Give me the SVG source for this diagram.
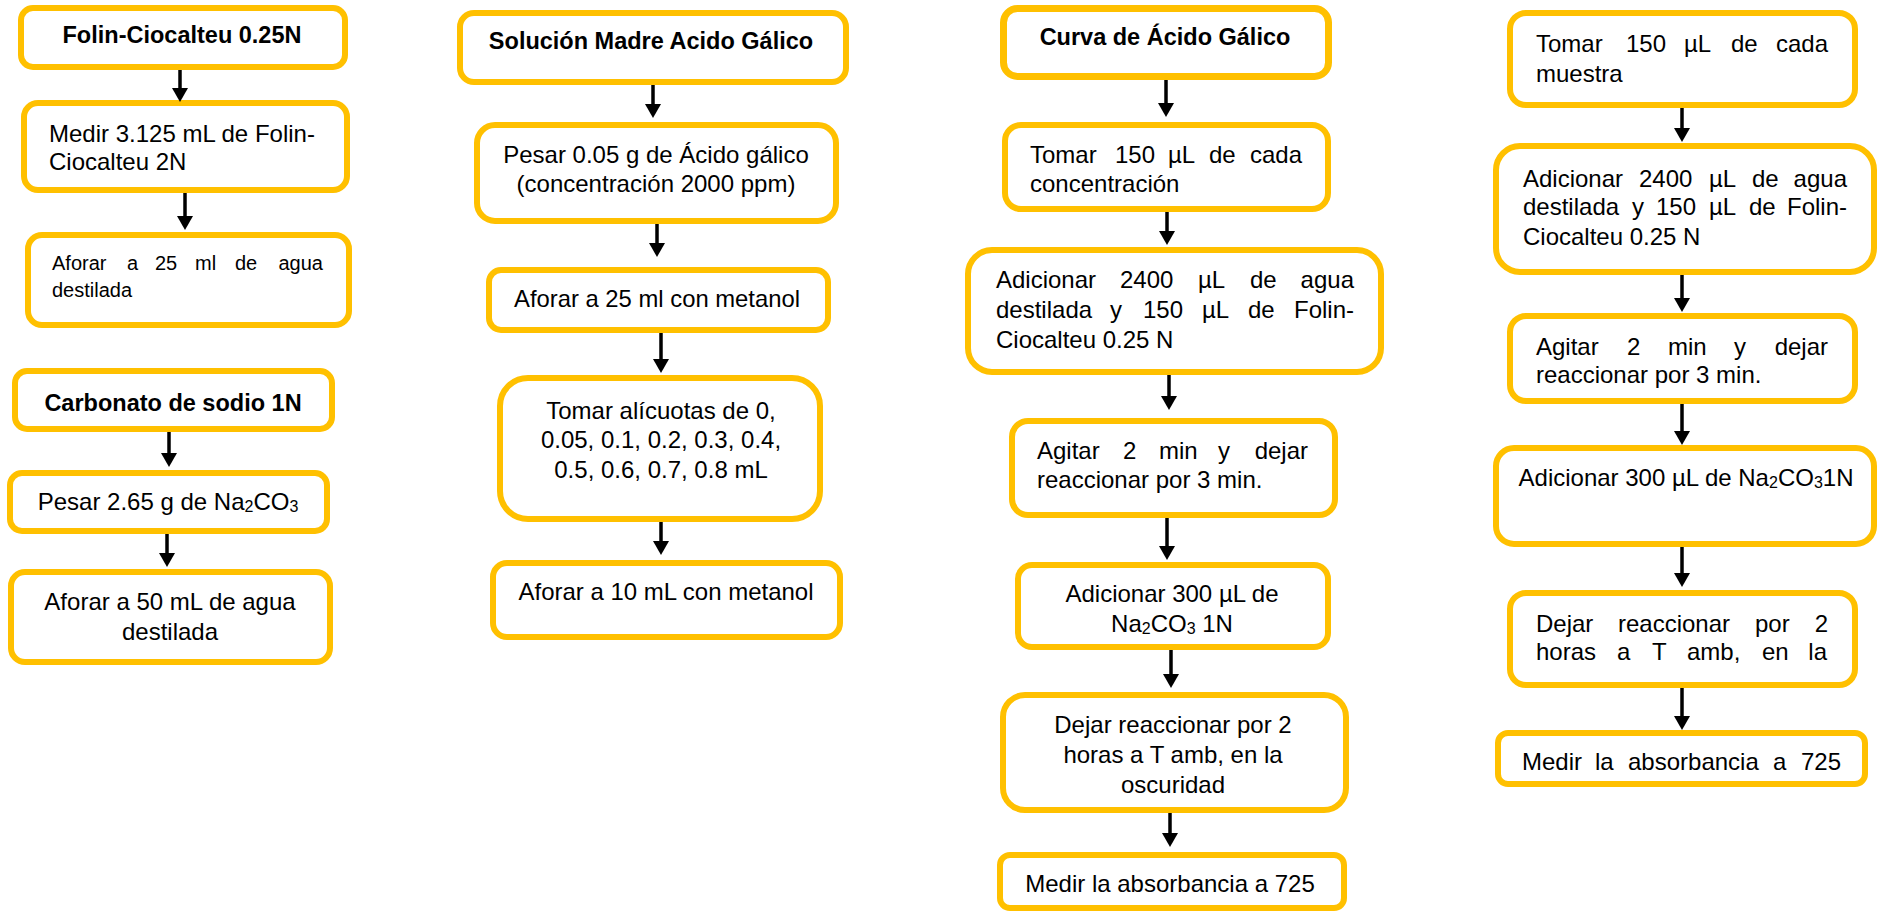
<svg xmlns="http://www.w3.org/2000/svg" width="1878" height="913" viewBox="0 0 1878 913">
  <defs>
    <style>
      .box { fill:#ffffff; stroke:#FFC000; stroke-width:6; }
      .box.thick { stroke-width:7; }
      .t { font-family:"Liberation Sans", Arial, sans-serif; font-size:24px; fill:#000; }
      .b { font-weight:bold; font-size:23.5px; }
      .c { text-anchor:middle; }
      .e { text-anchor:end; }
      .sm { font-size:20px; }
      .sub { font-size:16px; }
      .arr { stroke:#000; stroke-width:3.5; fill:none; marker-end:url(#ah); }
    </style>
    <marker id="ah" markerUnits="userSpaceOnUse" markerWidth="14" markerHeight="16" viewBox="0 0 14 16" refX="2" refY="8" orient="auto">
      <path d="M0,0 L14,8 L0,16 z" fill="#000"/>
    </marker>
  </defs>
  <rect width="1878" height="913" fill="#ffffff"/>

  <!-- Column 1: Folin-Ciocalteu reagent and sodium carbonate -->
  <g id="folin-title">
    <rect class="box" x="21" y="8" width="324" height="59" rx="12"/>
    <text class="t b c" x="182" y="43">Folin-Ciocalteu 0.25N</text>
  </g>
  <g id="folin-medir">
    <rect class="box" x="24" y="103" width="323" height="87" rx="14"/>
    <text class="t" x="49" y="142">Medir 3.125 mL de Folin-</text>
    <text class="t" x="49" y="170">Ciocalteu 2N</text>
  </g>
  <g id="folin-aforar">
    <rect class="box" x="28" y="235" width="321" height="90" rx="14"/>
    <text class="t sm" y="270"><tspan x="52">Aforar</tspan><tspan x="127">a</tspan><tspan x="155">25</tspan><tspan x="195">ml</tspan><tspan x="235">de</tspan><tspan class="e" x="323">agua</tspan></text>
    <text class="t sm" x="52" y="297">destilada</text>
  </g>
  <g id="carbonato-title">
    <rect class="box" x="15" y="371" width="317" height="58" rx="12"/>
    <text class="t b c" x="173" y="411">Carbonato de sodio 1N</text>
  </g>
  <g id="carbonato-pesar">
    <rect class="box" x="10" y="473" width="317" height="58" rx="12"/>
    <text class="t c" x="168" y="510">Pesar 2.65 g de Na<tspan class="sub" dy="2">2</tspan><tspan dy="-2">CO</tspan><tspan class="sub" dy="2">3</tspan></text>
  </g>
  <g id="carbonato-aforar">
    <rect class="box" x="11" y="572" width="319" height="90" rx="14"/>
    <text class="t c" x="170" y="610">Aforar a 50 mL de agua</text>
    <text class="t c" x="170" y="640">destilada</text>
  </g>

  <!-- Column 2: gallic acid stock solution -->
  <g id="madre-title">
    <rect class="box" x="460" y="13" width="386" height="69" rx="14"/>
    <text class="t b c" x="651" y="49">Solución Madre Acido Gálico</text>
  </g>
  <g id="madre-pesar">
    <rect class="box" x="477" y="125" width="359" height="96" rx="18"/>
    <text class="t c" x="656" y="163">Pesar 0.05 g de Ácido gálico</text>
    <text class="t c" x="656" y="192">(concentración 2000 ppm)</text>
  </g>
  <g id="madre-aforar25">
    <rect class="box" x="489" y="270" width="339" height="60" rx="12"/>
    <text class="t c" x="657" y="307" textLength="286" lengthAdjust="spacingAndGlyphs">Aforar a 25 ml con metanol</text>
  </g>
  <g id="madre-alicuotas">
    <rect class="box" x="500" y="378" width="320" height="141" rx="28"/>
    <text class="t c" x="661" y="419">Tomar alícuotas de 0,</text>
    <text class="t c" x="661" y="448">0.05, 0.1, 0.2, 0.3, 0.4,</text>
    <text class="t c" x="661" y="478">0.5, 0.6, 0.7, 0.8 mL</text>
  </g>
  <g id="madre-aforar10">
    <rect class="box" x="493" y="563" width="347" height="74" rx="14"/>
    <text class="t c" x="666" y="600" textLength="295" lengthAdjust="spacingAndGlyphs">Aforar a 10 mL con metanol</text>
  </g>

  <!-- Column 3: gallic acid calibration curve -->
  <g id="curva-title">
    <rect class="box thick" x="1003.5" y="8.5" width="325" height="68" rx="14"/>
    <text class="t b c" x="1165" y="45">Curva de Ácido Gálico</text>
  </g>
  <g id="curva-tomar">
    <rect class="box" x="1005" y="125" width="323" height="84" rx="16"/>
    <text class="t" y="163"><tspan x="1030">Tomar</tspan><tspan x="1115">150</tspan><tspan x="1168">µL</tspan><tspan x="1209">de</tspan><tspan class="e" x="1302">cada</tspan></text>
    <text class="t" x="1030" y="192">concentración</text>
  </g>
  <g id="curva-adicionar">
    <rect class="box" x="968" y="250" width="413" height="122" rx="24"/>
    <text class="t" y="288"><tspan x="996">Adicionar</tspan><tspan x="1120">2400</tspan><tspan x="1198">µL</tspan><tspan x="1250">de</tspan><tspan class="e" x="1354">agua</tspan></text>
    <text class="t" y="318"><tspan x="996">destilada</tspan><tspan x="1110">y</tspan><tspan x="1143">150</tspan><tspan x="1202">µL</tspan><tspan x="1248">de</tspan><tspan class="e" x="1354">Folin-</tspan></text>
    <text class="t" x="996" y="348">Ciocalteu 0.25 N</text>
  </g>
  <g id="curva-agitar">
    <rect class="box" x="1012" y="421" width="323" height="94" rx="16"/>
    <text class="t" y="459"><tspan x="1037">Agitar</tspan><tspan x="1123">2</tspan><tspan x="1159">min</tspan><tspan x="1218">y</tspan><tspan class="e" x="1308">dejar</tspan></text>
    <text class="t" x="1037" y="488">reaccionar por 3 min.</text>
  </g>
  <g id="curva-carbonato">
    <rect class="box" x="1018" y="565" width="310" height="82" rx="14"/>
    <text class="t c" x="1172" y="602">Adicionar 300 µL de</text>
    <text class="t c" x="1172" y="632">Na<tspan class="sub" dy="2">2</tspan><tspan dy="-2">CO</tspan><tspan class="sub" dy="2">3</tspan><tspan dy="-2"> 1N</tspan></text>
  </g>
  <g id="curva-reposo">
    <rect class="box" x="1003" y="695" width="343" height="115" rx="22"/>
    <text class="t c" x="1173" y="733">Dejar reaccionar por 2</text>
    <text class="t c" x="1173" y="763">horas a T amb, en la</text>
    <text class="t c" x="1173" y="793">oscuridad</text>
  </g>
  <g id="curva-medir">
    <rect class="box" x="1000" y="855" width="344" height="53" rx="10"/>
    <text class="t c" x="1170" y="892">Medir la absorbancia a 725</text>
  </g>

  <!-- Column 4: samples -->
  <g id="muestra-tomar">
    <rect class="box" x="1510" y="13" width="345" height="92" rx="16"/>
    <text class="t" y="52"><tspan x="1536">Tomar</tspan><tspan x="1626">150</tspan><tspan x="1684">µL</tspan><tspan x="1731">de</tspan><tspan class="e" x="1828">cada</tspan></text>
    <text class="t" x="1536" y="82">muestra</text>
  </g>
  <g id="muestra-adicionar">
    <rect class="box" x="1496" y="146" width="378" height="126" rx="24"/>
    <text class="t" y="187"><tspan x="1523">Adicionar</tspan><tspan x="1639">2400</tspan><tspan x="1709">µL</tspan><tspan x="1752">de</tspan><tspan class="e" x="1847">agua</tspan></text>
    <text class="t" y="215"><tspan x="1523">destilada</tspan><tspan x="1632">y</tspan><tspan x="1656">150</tspan><tspan x="1709">µL</tspan><tspan x="1749">de</tspan><tspan class="e" x="1847">Folin-</tspan></text>
    <text class="t" x="1523" y="245">Ciocalteu 0.25 N</text>
  </g>
  <g id="muestra-agitar">
    <rect class="box" x="1510" y="316" width="345" height="85" rx="16"/>
    <text class="t" y="355"><tspan x="1536">Agitar</tspan><tspan x="1627">2</tspan><tspan x="1668">min</tspan><tspan x="1734">y</tspan><tspan class="e" x="1828">dejar</tspan></text>
    <text class="t" x="1536" y="383">reaccionar por 3 min.</text>
  </g>
  <g id="muestra-carbonato">
    <rect class="box" x="1496" y="448" width="378" height="96" rx="18"/>
    <text class="t c" x="1686" y="486">Adicionar 300 µL de Na<tspan class="sub" dy="2">2</tspan><tspan dy="-2">CO</tspan><tspan class="sub" dy="2">3</tspan><tspan dy="-2">1N</tspan></text>
  </g>
  <g id="muestra-reposo">
    <rect class="box" x="1510" y="593" width="345" height="92" rx="16"/>
    <text class="t" y="632"><tspan x="1536">Dejar</tspan><tspan x="1618">reaccionar</tspan><tspan x="1755">por</tspan><tspan class="e" x="1828">2</tspan></text>
    <text class="t" y="660"><tspan x="1536">horas</tspan><tspan x="1617">a</tspan><tspan x="1652">T</tspan><tspan x="1687">amb,</tspan><tspan x="1762">en</tspan><tspan class="e" x="1827">la</tspan></text>
  </g>
  <g id="muestra-medir">
    <rect class="box" x="1498" y="733" width="367" height="51" rx="10"/>
    <text class="t" y="770"><tspan x="1522">Medir</tspan><tspan x="1595">la</tspan><tspan x="1628">absorbancia</tspan><tspan x="1773">a</tspan><tspan class="e" x="1841">725</tspan></text>
  </g>

  <!-- Flow arrows (line ends 12px short of the tip; marker supplies the head) -->
  <g id="connectors">
    <line class="arr" x1="180" y1="70" x2="180" y2="90"/>
    <line class="arr" x1="185" y1="193" x2="185" y2="218"/>
    <line class="arr" x1="169" y1="432" x2="169" y2="455"/>
    <line class="arr" x1="167" y1="534" x2="167" y2="555"/>

    <line class="arr" x1="653" y1="85" x2="653" y2="106"/>
    <line class="arr" x1="657" y1="224" x2="657" y2="245"/>
    <line class="arr" x1="661" y1="333" x2="661" y2="361"/>
    <line class="arr" x1="661" y1="522" x2="661" y2="543"/>

    <line class="arr" x1="1166" y1="80" x2="1166" y2="105"/>
    <line class="arr" x1="1167" y1="212" x2="1167" y2="233"/>
    <line class="arr" x1="1169" y1="375" x2="1169" y2="398"/>
    <line class="arr" x1="1167" y1="518" x2="1167" y2="548"/>
    <line class="arr" x1="1171" y1="650" x2="1171" y2="676"/>
    <line class="arr" x1="1170" y1="813" x2="1170" y2="835"/>

    <line class="arr" x1="1682" y1="108" x2="1682" y2="130"/>
    <line class="arr" x1="1682" y1="275" x2="1682" y2="300"/>
    <line class="arr" x1="1682" y1="404" x2="1682" y2="433"/>
    <line class="arr" x1="1682" y1="547" x2="1682" y2="575"/>
    <line class="arr" x1="1682" y1="688" x2="1682" y2="718"/>
  </g>
</svg>
